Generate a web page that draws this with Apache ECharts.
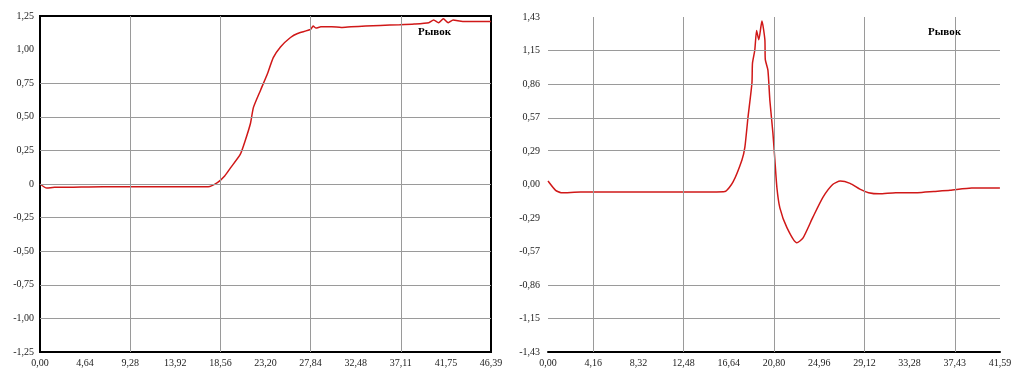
<!DOCTYPE html>
<html>
<head>
<meta charset="utf-8">
<script src="https://cdn.jsdelivr.net/npm/echarts@6/dist/echarts.min.js"></script>
<style>
  html, body { margin: 0; padding: 0; background: #fff; }
  #chart { width: 1020px; height: 375px; }
</style>
</head>
<body>
<div id="chart"></div>
<script>
// Left panel: position-like curve (x, y)
const leftX = [0, 0.7, 1.5, 3, 5, 8, 12, 16, 17.3, 18.25, 19.0, 19.6, 20.6, 21.1, 21.65, 21.96, 22.7, 23.4, 24.0, 24.74, 25.77, 26.5, 27.84, 28.1, 28.4, 28.9, 30, 31, 32, 33.5, 35, 37, 38.5, 40, 40.5, 41, 41.5, 42, 42.5, 43.5, 45, 46.39];
const leftY = [0.0, -0.03, -0.025, -0.025, -0.022, -0.02, -0.02, -0.02, -0.02, 0.01, 0.06, 0.12, 0.22, 0.32, 0.45, 0.57, 0.70, 0.82, 0.94, 1.02, 1.09, 1.12, 1.15, 1.175, 1.16, 1.17, 1.17, 1.165, 1.17, 1.175, 1.18, 1.185, 1.19, 1.2, 1.22, 1.2, 1.23, 1.2, 1.22, 1.21, 1.21, 1.21];

// Right panel: derivative-like curve (x, y)
const rightX = [0, 0.7, 1.2, 3, 6, 10, 14, 16.28, 17.02, 17.85, 18.12, 18.4, 18.77, 18.82, 19.03, 19.2, 19.4, 19.69, 19.96, 20.0, 20.24, 20.42, 20.7, 20.88, 21.07, 21.34, 21.99, 22.9, 23.46, 24.38, 25.3, 26.2, 26.9, 27.8, 28.7, 29.5, 30.5, 32, 34, 35.5, 37, 39, 41.59];
const rightY = [0.03, -0.05, -0.07, -0.065, -0.065, -0.065, -0.065, -0.06, 0.02, 0.21, 0.32, 0.57, 0.87, 1.04, 1.15, 1.32, 1.24, 1.40, 1.24, 1.07, 0.98, 0.72, 0.44, 0.21, -0.03, -0.2, -0.37, -0.5, -0.46, -0.28, -0.11, 0.0, 0.03, 0.01, -0.04, -0.07, -0.08, -0.07, -0.07, -0.06, -0.05, -0.03, -0.03];

// Tick labels
const leftXTicks = ['0,00', '4,64', '9,28', '13,92', '18,56', '23,20', '27,84', '32,48', '37,11', '41,75', '46,39'];
const leftYTicks = ['-1,25', '-1,00', '-0,75', '-0,50', '-0,25', '0', '0,25', '0,50', '0,75', '1,00', '1,25'];
const rightXTicks = ['0,00', '4,16', '8,32', '12,48', '16,64', '20,80', '24,96', '29,12', '33,28', '37,43', '41,59'];
const rightYTicks = ['-1,43', '-1,15', '-0,86', '-0,57', '-0,29', '0,00', '0,29', '0,57', '0,86', '1,15', '1,43'];

// Tick indices that carry a grid line
const leftVGrid = [2, 4, 6, 8];
const leftHGrid = [1, 2, 3, 4, 5, 6, 7, 8];
const rightVGrid = [1, 3, 5, 7, 9];
const rightHGrid = [1, 2, 6, 7, 8, 9];

const seriesName = 'Рывок';

const L = { xStep: 4.64, xMax: 46.4, yStep: 0.25, yMin: -1.25 };
const R = { xStep: 4.16, xMax: 41.6, yStep: 0.287, yMin: -1.435 };

function pairs(xs, ys) { return xs.map((x, i) => [x, ys[i]]); }
function xLabel(ticks, step) { return v => ticks[Math.round(v / step)] || ''; }
function yLabel(ticks, step, min) { return v => ticks[Math.round((v - min) / step)] || ''; }

const labelStyle = { fontFamily: 'Liberation Serif', fontSize: 10, color: '#222' };
const gridLineStyle = { color: '#9a9a9a', width: 1, type: 'solid' };

function gridLines(vIdx, hIdx, cfg) {
  const data = [];
  vIdx.forEach(i => data.push({ xAxis: +(i * cfg.xStep).toFixed(3) }));
  hIdx.forEach(i => data.push({ yAxis: +(cfg.yMin + i * cfg.yStep).toFixed(3) }));
  return data;
}

const chart = echarts.init(document.getElementById('chart'));
chart.setOption({
  animation: false,
  backgroundColor: '#fff',
  grid: [
    { left: 40, top: 16, right: 529, bottom: 23, show: true, borderColor: '#000', borderWidth: 2, backgroundColor: 'transparent' },
    { left: 548, top: 17, right: 20, bottom: 23 }
  ],
  legend: [
    { left: 408, top: 20, icon: 'none', itemWidth: 0, itemGap: 0, data: [{ name: seriesName }],
      textStyle: { fontFamily: 'Liberation Serif', fontWeight: 'bold', fontSize: 11, color: '#000' }, selectedMode: false },
    { left: 918, top: 20, icon: 'none', itemWidth: 0, itemGap: 0, data: [{ name: seriesName }],
      textStyle: { fontFamily: 'Liberation Serif', fontWeight: 'bold', fontSize: 11, color: '#000' }, selectedMode: false }
  ],
  xAxis: [
    { type: 'value', gridIndex: 0, min: 0, max: L.xMax, interval: L.xStep,
      axisLine: { show: false }, axisTick: { show: false }, splitLine: { show: false },
      axisLabel: Object.assign({ margin: 6, formatter: xLabel(leftXTicks, L.xStep), showMinLabel: true, showMaxLabel: true }, labelStyle) },
    { type: 'value', gridIndex: 1, min: 0, max: R.xMax, interval: R.xStep,
      axisLine: { show: true, onZero: false, lineStyle: { color: '#000', width: 2 } }, axisTick: { show: false }, splitLine: { show: false },
      axisLabel: Object.assign({ margin: 6, formatter: xLabel(rightXTicks, R.xStep), showMinLabel: true, showMaxLabel: true }, labelStyle) }
  ],
  yAxis: [
    { type: 'value', gridIndex: 0, min: L.yMin, max: -L.yMin, interval: L.yStep,
      axisLine: { show: false }, axisTick: { show: false }, splitLine: { show: false },
      axisLabel: Object.assign({ margin: 6, formatter: yLabel(leftYTicks, L.yStep, L.yMin) }, labelStyle) },
    { type: 'value', gridIndex: 1, min: R.yMin, max: -R.yMin, interval: R.yStep,
      axisLine: { show: false }, axisTick: { show: false }, splitLine: { show: false },
      axisLabel: Object.assign({ margin: 8, formatter: yLabel(rightYTicks, R.yStep, R.yMin) }, labelStyle) }
  ],
  series: [
    { type: 'line', xAxisIndex: 0, yAxisIndex: 0, data: [], z: 1, silent: true,
      markLine: { silent: true, symbol: 'none', label: { show: false }, lineStyle: gridLineStyle, data: gridLines(leftVGrid, leftHGrid, L) } },
    { type: 'line', xAxisIndex: 1, yAxisIndex: 1, data: [], z: 1, silent: true,
      markLine: { silent: true, symbol: 'none', label: { show: false }, lineStyle: gridLineStyle, data: gridLines(rightVGrid, rightHGrid, R) } },
    { name: seriesName, type: 'line', xAxisIndex: 0, yAxisIndex: 0, data: pairs(leftX, leftY), z: 3,
      showSymbol: false, smooth: 0.2, lineStyle: { color: '#d01818', width: 1.5 }, itemStyle: { color: '#d01818' } },
    { name: seriesName, type: 'line', xAxisIndex: 1, yAxisIndex: 1, data: pairs(rightX, rightY), z: 3,
      showSymbol: false, smooth: 0.2, lineStyle: { color: '#d01818', width: 1.5 }, itemStyle: { color: '#d01818' } }
  ]
});
</script>
</body>
</html>
